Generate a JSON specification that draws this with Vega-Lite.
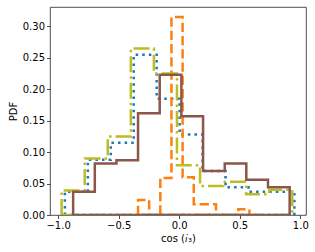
{
  "$schema": "https://vega.github.io/schema/vega-lite/v6.json",
  "width": 256,
  "height": 208,
  "autosize": {"type": "none"},
  "padding": {"left": 50, "top": 7, "right": 9, "bottom": 37},
  "config": {
    "font": "DejaVu Sans",
    "view": {"stroke": "#222", "strokeWidth": 0.8},
    "axis": {
      "grid": false,
      "domain": false,
      "tickColor": "#222",
      "tickWidth": 0.8,
      "tickSize": 3.5,
      "labelFont": "DejaVu Sans",
      "labelFontSize": 10,
      "labelColor": "#000",
      "labelPadding": 2,
      "titleFont": "DejaVu Sans",
      "titleFontSize": 10,
      "titleFontWeight": "normal",
      "titleColor": "#000"
    }
  },
  "data": {
    "values": [
      {"s": "blue", "x": -0.944, "y": 0, "o": 0},
      {"s": "blue", "x": -0.944, "y": 0.037, "o": 1},
      {"s": "blue", "x": -0.7545, "y": 0.088, "o": 2},
      {"s": "blue", "x": -0.565, "y": 0.115, "o": 3},
      {"s": "blue", "x": -0.3755, "y": 0.255, "o": 4},
      {"s": "blue", "x": -0.186, "y": 0.185, "o": 5},
      {"s": "blue", "x": 0.0035, "y": 0.128, "o": 6},
      {"s": "blue", "x": 0.193, "y": 0.070, "o": 7},
      {"s": "blue", "x": 0.3825, "y": 0.044, "o": 8},
      {"s": "blue", "x": 0.572, "y": 0.037, "o": 9},
      {"s": "blue", "x": 0.7615, "y": 0.037, "o": 10},
      {"s": "blue", "x": 0.951, "y": 0, "o": 11},
      {"s": "blue", "x": -0.944, "y": 0, "o": 12},

      {"s": "orange", "x": -0.340, "y": 0, "o": 0},
      {"s": "orange", "x": -0.340, "y": 0.024, "o": 1},
      {"s": "orange", "x": -0.248, "y": 0, "o": 2},
      {"s": "orange", "x": -0.156, "y": 0.059, "o": 3},
      {"s": "orange", "x": -0.064, "y": 0.315, "o": 4},
      {"s": "orange", "x": 0.028, "y": 0.060, "o": 5},
      {"s": "orange", "x": 0.120, "y": 0.017, "o": 6},
      {"s": "orange", "x": 0.212, "y": 0.017, "o": 7},
      {"s": "orange", "x": 0.304, "y": 0, "o": 8},
      {"s": "orange", "x": 0.396, "y": 0, "o": 9},
      {"s": "orange", "x": 0.488, "y": 0.009, "o": 10},
      {"s": "orange", "x": 0.580, "y": 0, "o": 11},
      {"s": "orange", "x": -0.340, "y": 0, "o": 12},

      {"s": "olive", "x": -0.971, "y": 0, "o": 0},
      {"s": "olive", "x": -0.971, "y": 0.039, "o": 1},
      {"s": "olive", "x": -0.7805, "y": 0.090, "o": 2},
      {"s": "olive", "x": -0.590, "y": 0.125, "o": 3},
      {"s": "olive", "x": -0.3995, "y": 0.265, "o": 4},
      {"s": "olive", "x": -0.209, "y": 0.225, "o": 5},
      {"s": "olive", "x": -0.0185, "y": 0.079, "o": 6},
      {"s": "olive", "x": 0.172, "y": 0.046, "o": 7},
      {"s": "olive", "x": 0.3625, "y": 0.053, "o": 8},
      {"s": "olive", "x": 0.553, "y": 0.033, "o": 9},
      {"s": "olive", "x": 0.7435, "y": 0.040, "o": 10},
      {"s": "olive", "x": 0.934, "y": 0, "o": 11},
      {"s": "olive", "x": -0.971, "y": 0, "o": 12},

      {"s": "brown", "x": -0.876, "y": 0, "o": 0},
      {"s": "brown", "x": -0.876, "y": 0.037, "o": 1},
      {"s": "brown", "x": -0.697, "y": 0.082, "o": 2},
      {"s": "brown", "x": -0.518, "y": 0.087, "o": 3},
      {"s": "brown", "x": -0.340, "y": 0.162, "o": 4},
      {"s": "brown", "x": -0.161, "y": 0.223, "o": 5},
      {"s": "brown", "x": 0.018, "y": 0.157, "o": 6},
      {"s": "brown", "x": 0.197, "y": 0.070, "o": 7},
      {"s": "brown", "x": 0.376, "y": 0.082, "o": 8},
      {"s": "brown", "x": 0.554, "y": 0.056, "o": 9},
      {"s": "brown", "x": 0.733, "y": 0.044, "o": 10},
      {"s": "brown", "x": 0.912, "y": 0, "o": 11},
      {"s": "brown", "x": -0.876, "y": 0, "o": 12}
    ]
  },
  "encoding": {
    "x": {
      "field": "x", "type": "quantitative",
      "scale": {"domain": [-1.067, 1.047], "nice": false, "zero": false},
      "axis": {"values": [-1, -0.5, 0, 0.5, 1], "format": ".1f", "title": "cos (𝑖₃)", "titlePadding": 3}
    },
    "y": {
      "field": "y", "type": "quantitative",
      "scale": {"domain": [0, 0.331], "nice": false},
      "axis": {"values": [0, 0.05, 0.1, 0.15, 0.2, 0.25, 0.3], "format": ".2f", "title": "PDF", "titlePadding": 4}
    },
    "order": {"field": "o", "type": "quantitative"}
  },
  "layer": [
    {
      "transform": [{"filter": "datum.s === 'blue'"}],
      "mark": {"type": "line", "interpolate": "step-after", "color": "#1f77b4", "strokeWidth": 2.5, "strokeDash": [2.5, 4.1], "strokeCap": "butt", "clip": true}
    },
    {
      "transform": [{"filter": "datum.s === 'orange'"}],
      "mark": {"type": "line", "interpolate": "step-after", "color": "#ff7f0e", "strokeWidth": 2.5, "strokeDash": [9.25, 4], "strokeCap": "butt", "clip": true}
    },
    {
      "transform": [{"filter": "datum.s === 'olive'"}],
      "mark": {"type": "line", "interpolate": "step-after", "color": "#bcbd22", "strokeWidth": 2.5, "strokeDash": [16, 4, 2.5, 4], "strokeCap": "butt", "clip": true}
    },
    {
      "transform": [{"filter": "datum.s === 'brown'"}],
      "mark": {"type": "line", "interpolate": "step-after", "color": "#8c564b", "strokeWidth": 2.5, "clip": true}
    }
  ]
}
